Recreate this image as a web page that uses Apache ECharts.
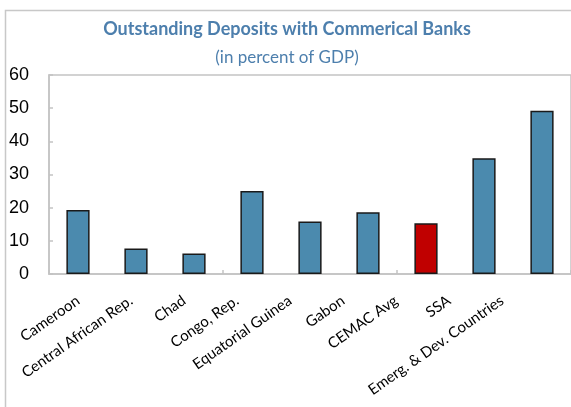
<!DOCTYPE html>
<html>
<head>
<meta charset="utf-8">
<script src="https://cdn.jsdelivr.net/npm/echarts@6/dist/echarts.min.js"></script>
<style>
html,body{margin:0;padding:0;background:#fff;}
#chart{width:571px;height:407px;}
</style>
</head>
<body>
<div id="chart"></div>
<script>
const categories = ["Cameroon", "Central African Rep.", "Chad", "Congo, Rep.", "Equatorial Guinea", "Gabon", "CEMAC Avg", "SSA", "Emerg. & Dev. Countries"];
const values = [19.3, 7.7, 6.2, 25.0, 15.8, 18.6, 15.3, 34.9, 49.2];
const highlightCategory = "CEMAC Avg";
const yTicks = [0, 10, 20, 30, 40, 50, 60];
const titleText = "Outstanding Deposits with Commerical Banks";
const subtitleText = "(in percent of GDP)";

const blue = '#4b8aae';
const red = '#c00000';
const chart = echarts.init(document.getElementById('chart'));
chart.setOption({
  animation: false,
  graphic: [{
    type: 'rect',
    shape: {x: 5.5, y: 10.5, width: 600, height: 420},
    style: {fill: 'none', stroke: '#c8c8c8', lineWidth: 1.5},
    silent: true
  }],
  title: [{
    text: titleText,
    left: 282, top: 15, textAlign: 'center',
    textStyle: {fontFamily: 'Lato', fontWeight: 'bold', fontSize: 18, color: '#4d7fad'}
  }, {
    text: subtitleText,
    left: 282, top: 44, textAlign: 'center',
    textStyle: {fontFamily: 'Lato', fontWeight: 'normal', fontSize: 17, color: '#4d7fad'}
  }],
  grid: [
    {left: 49, right: -3, top: 75, bottom: 133, show: true, borderColor: '#c3c3c3', borderWidth: 1.5, backgroundColor: 'transparent'},
    {left: 51.5, right: 42.5, top: 75, bottom: 133, show: false}
  ],
  xAxis: [{
    type: 'category',
    gridIndex: 0,
    data: categories,
    axisLine: {lineStyle: {color: '#c3c3c3', width: 1.5}},
    axisTick: {show: true, inside: true, length: 4, lineStyle: {color: '#c3c3c3', width: 1.5}},
    axisLabel: {show: false}
  }, {
    type: 'category',
    gridIndex: 1,
    data: categories,
    axisLine: {show: false},
    axisTick: {show: false},
    axisLabel: {rotate: 35, margin: 25, fontFamily: 'Lato', fontSize: 15, color: '#000', interval: 0}
  }],
  yAxis: [{
    type: 'value',
    gridIndex: 0,
    min: yTicks[0], max: yTicks[yTicks.length - 1], interval: 10,
    axisLine: {show: true, lineStyle: {color: '#c3c3c3', width: 1.5}},
    axisTick: {show: true, inside: true, length: 4, lineStyle: {color: '#c3c3c3', width: 1.5}},
    splitLine: {show: false},
    axisLabel: {margin: 20, fontFamily: 'Liberation Sans', fontSize: 18, color: '#000'}
  }, {
    type: 'value',
    gridIndex: 1,
    min: yTicks[0], max: yTicks[yTicks.length - 1], interval: 10,
    show: false
  }],
  series: [{
    type: 'bar',
    xAxisIndex: 0,
    yAxisIndex: 0,
    barWidth: '40%',
    data: values.map((v, i) => ({
      value: v,
      itemStyle: {color: categories[i] === highlightCategory ? red : blue}
    })),
    itemStyle: {borderColor: '#1a1a1a', borderWidth: 1.5}
  }]
});
</script>
</body>
</html>
